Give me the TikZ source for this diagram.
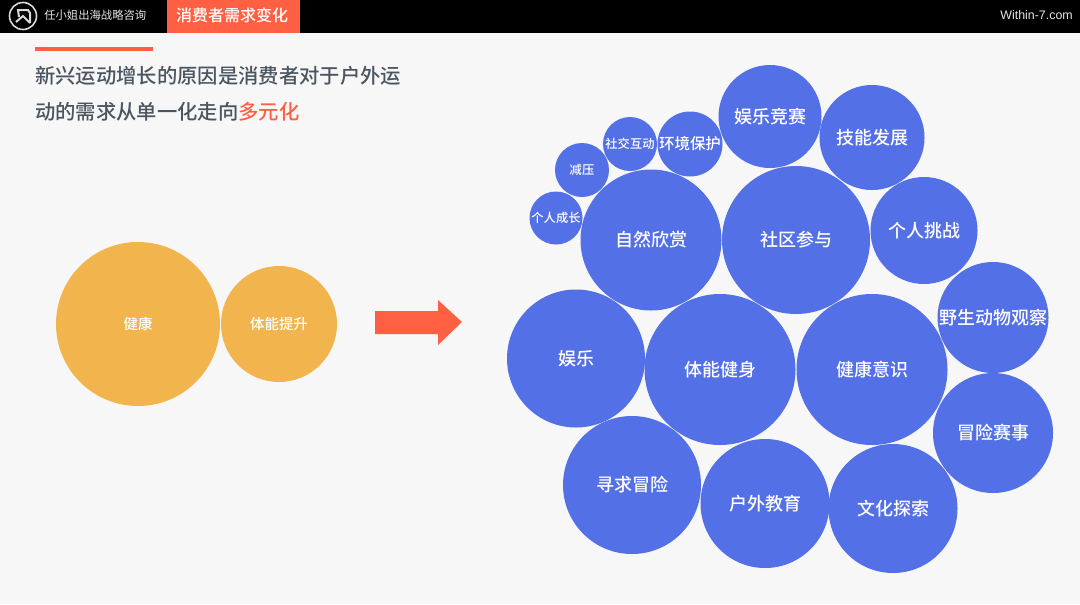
\documentclass[tikz,border=0pt]{standalone}
\usepackage{fontspec}
\setmainfont{Noto Sans CJK SC}[BoldFont={Noto Sans CJK SC Medium}]
\setsansfont{Liberation Sans}
\definecolor{pagebg}{HTML}{F7F7F7}
\definecolor{accent}{HTML}{FF6044}
\definecolor{bubbleblue}{HTML}{5470E6}
\definecolor{amber}{HTML}{F2B44C}
\definecolor{headtext}{HTML}{4A5560}
\tikzset{
	bubble/.style={circle, fill=bubbleblue, text=white, inner sep=0pt, outer sep=0pt, minimum size=#1*1.5pt},
	amberbubble/.style={circle, fill=amber, text=white, inner sep=0pt, outer sep=0pt, minimum size=#1*1.5pt, font=\fontsize{10.8}{13}\selectfont\bfseries},
	bigtext/.style={font=\fontsize{13.5}{16}\selectfont\bfseries},
	midtext/.style={font=\fontsize{11.6}{14}\selectfont\bfseries},
	smalltext/.style={font=\fontsize{9.2}{11}\selectfont\bfseries},
	headline/.style={anchor=west, inner sep=0pt, text=headtext, font=\fontsize{15.25}{18}\selectfont\bfseries}
}
\begin{document}
\begin{tikzpicture}[x=0.75pt, y=-0.75pt]
	\useasboundingbox (0,0) rectangle (1080,604);
	\fill[pagebg] (0,0) rectangle (1080,604);
	
	% top bar
	\fill[black] (0,0) rectangle (1080,33);
	\fill[accent] (167,0) rectangle (300,33);
	\draw[white!85!black, line width=1.2pt] (23,16) circle (13.5);
	\draw[white!85!black, line width=1.5pt] (19,17) -- (18,10) -- (28,10) -- (30,13) -- (30,23);
	\draw[white!85!black, line width=1.5pt] (16,22) -- (23,16) -- (30,23);
	\node[anchor=west, inner sep=0pt, text=white!90!black, font=\fontsize{8.5}{10}\selectfont] (brand) at (44,15) {任小姐出海战略咨询};
	\node[inner sep=0pt, text=white, font=\fontsize{12}{14}\selectfont\bfseries] (tab) at (232,15.5) {消费者需求变化};
	\node[anchor=east, inner sep=0pt, text=white!90!black, font=\sffamily\fontsize{9.3}{11}\selectfont] (site) at (1073,15) {Within-7.com};
	
	% headline
	\fill[accent] (35,47) rectangle (153,51);
	\node[headline] (line1) at (35,75.5) {新兴运动增长的原因是消费者对于户外运};
	\node[headline] (line2) at (35,111.5) {动的需求从单一化走向\textcolor{accent}{多元化}};
	
	% left side
	\node[amberbubble=82] (health) at (138,324) {健康};
	\node[amberbubble=58] (fitness) at (279,324) {体能提升};
	
	\fill[accent] (375,311) -- (438,311) -- (438,300) -- (462,322) -- (438,345) -- (438,334) -- (375,334) -- cycle;
	
	% right side
	\node[bubble=51.5, bigtext] (compete) at (770,116.5) {娱乐竞赛};
	\node[bubble=52.5, bigtext] (skill) at (872,137.5) {技能发展};
	\node[bubble=32.5, midtext] (envir) at (690,144) {环境保护};
	\node[bubble=27, smalltext] (social) at (630,144) {社交互动};
	\node[bubble=27, smalltext] (stress) at (582,170) {减压};
	\node[bubble=26.5, smalltext] (growth) at (556,218) {个人成长};
	\node[bubble=70.5, bigtext] (nature) at (651,240) {自然欣赏};
	\node[bubble=74, bigtext] (commun) at (796,240) {社区参与};
	\node[bubble=53.5, bigtext] (challenge) at (924,230.5) {个人挑战};
	\node[bubble=55.5, bigtext] (wild) at (993,317.5) {野生动物观察};
	\node[bubble=75.5, bigtext] (aware) at (872,369.5) {健康意识};
	\node[bubble=75.5, bigtext] (body) at (720,369.5) {体能健身};
	\node[bubble=69, bigtext] (fun) at (576,358.5) {娱乐};
	\node[bubble=60, bigtext] (race) at (993,433) {冒险赛事};
	\node[bubble=69, bigtext] (adventure) at (632,485) {寻求冒险};
	\node[bubble=64.5, bigtext] (edu) at (765,503.5) {户外教育};
	\node[bubble=64.5, bigtext] (culture) at (893,508.5) {文化探索};
\end{tikzpicture}
\end{document}
